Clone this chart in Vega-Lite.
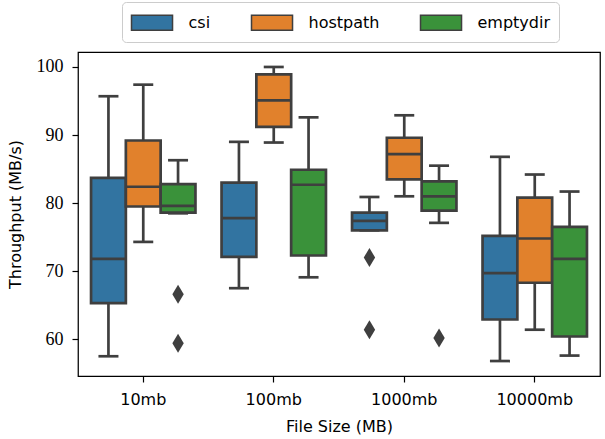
{
  "$schema": "https://vega.github.io/schema/vega-lite/v6.json",
  "width": 522,
  "height": 324,
  "autosize": {"type": "none"},
  "padding": {"left": 78, "top": 52, "right": 5, "bottom": 63},
  "background": "white",
  "config": {
    "view": {"stroke": "black", "strokeWidth": 1.25},
    "axis": {
      "domain": false,
      "grid": false,
      "tickColor": "black",
      "tickSize": 6,
      "tickWidth": 1.2,
      "labelColor": "black",
      "titleColor": "black",
      "titleFont": "DejaVu Sans",
      "titleFontSize": 16,
      "titleFontWeight": "normal"
    }
  },
  "datasets": {
    "boxes": [
      {"size": "10mb", "type": "csi", "lower": 57.5, "q1": 65.3, "median": 71.8, "q3": 83.7, "upper": 95.7},
      {"size": "10mb", "type": "hostpath", "lower": 74.3, "q1": 79.5, "median": 82.4, "q3": 89.2, "upper": 97.4},
      {"size": "10mb", "type": "emptydir", "lower": 78.5, "q1": 78.6, "median": 79.6, "q3": 82.8, "upper": 86.3},
      {"size": "100mb", "type": "csi", "lower": 67.5, "q1": 72.1, "median": 77.8, "q3": 83.0, "upper": 89.0},
      {"size": "100mb", "type": "hostpath", "lower": 88.9, "q1": 91.2, "median": 95.1, "q3": 98.9, "upper": 100.0},
      {"size": "100mb", "type": "emptydir", "lower": 69.1, "q1": 72.3, "median": 82.7, "q3": 84.9, "upper": 92.6},
      {"size": "1000mb", "type": "csi", "lower": 76.0, "q1": 76.0, "median": 77.4, "q3": 78.6, "upper": 80.9},
      {"size": "1000mb", "type": "hostpath", "lower": 81.0, "q1": 83.5, "median": 87.2, "q3": 89.6, "upper": 92.9},
      {"size": "1000mb", "type": "emptydir", "lower": 77.1, "q1": 78.9, "median": 81.0, "q3": 83.2, "upper": 85.5},
      {"size": "10000mb", "type": "csi", "lower": 56.8, "q1": 62.9, "median": 69.7, "q3": 75.2, "upper": 86.8},
      {"size": "10000mb", "type": "hostpath", "lower": 61.4, "q1": 68.3, "median": 74.8, "q3": 80.8, "upper": 84.2},
      {"size": "10000mb", "type": "emptydir", "lower": 57.6, "q1": 60.4, "median": 71.8, "q3": 76.5, "upper": 81.7}
    ],
    "outliers": [
      {"size": "10mb", "type": "emptydir", "value": 66.6},
      {"size": "10mb", "type": "emptydir", "value": 59.4},
      {"size": "1000mb", "type": "csi", "value": 72.0},
      {"size": "1000mb", "type": "csi", "value": 61.4},
      {"size": "1000mb", "type": "emptydir", "value": 60.2}
    ]
  },
  "encoding": {
    "x": {
      "field": "size",
      "type": "nominal",
      "title": "File Size (MB)",
      "scale": {"domain": ["10mb", "100mb", "1000mb", "10000mb"], "paddingInner": 0.2, "paddingOuter": 0.1},
      "axis": {"labelAngle": 0, "labelFont": "DejaVu Sans", "labelFontSize": 16, "labelPadding": 9, "titlePadding": 11, "bandPosition": 0.5}
    },
    "xOffset": {
      "field": "type",
      "type": "nominal",
      "scale": {"domain": ["csi", "hostpath", "emptydir"], "paddingInner": 0, "paddingOuter": 0}
    }
  },
  "layer": [
    {
      "data": {"name": "boxes"},
      "mark": {"type": "rule", "color": "#3f3f3f", "strokeWidth": 2.7},
      "encoding": {
        "y": {
          "field": "lower",
          "type": "quantitative",
          "title": "Throughput (MB/s)",
          "scale": {"domain": [54.6, 102.2], "nice": false, "zero": false},
          "axis": {"values": [60, 70, 80, 90, 100], "labelFont": "Liberation Serif", "labelFontSize": 18, "labelPadding": 9, "titlePadding": 13}
        },
        "y2": {"field": "upper"}
      }
    },
    {
      "data": {"name": "boxes"},
      "mark": {"type": "tick", "color": "#3f3f3f", "size": 20, "thickness": 2.7, "opacity": 1},
      "encoding": {"y": {"field": "lower", "type": "quantitative"}}
    },
    {
      "data": {"name": "boxes"},
      "mark": {"type": "tick", "color": "#3f3f3f", "size": 20, "thickness": 2.7, "opacity": 1},
      "encoding": {"y": {"field": "upper", "type": "quantitative"}}
    },
    {
      "data": {"name": "boxes"},
      "mark": {"type": "bar", "stroke": "#3f3f3f", "strokeWidth": 2.7, "opacity": 1},
      "encoding": {
        "y": {"field": "q1", "type": "quantitative"},
        "y2": {"field": "q3"},
        "color": {
          "field": "type",
          "type": "nominal",
          "scale": {"domain": ["csi", "hostpath", "emptydir"], "range": ["#3274a1", "#e1812c", "#3a923a"]},
          "legend": {
            "title": null,
            "orient": "none",
            "legendX": 44,
            "legendY": -50,
            "direction": "horizontal",
            "symbolType": "M-1,-0.68H2.73V0.68H-1Z",
            "symbolSize": 484,
            "symbolStrokeColor": "#3f3f3f",
            "symbolStrokeWidth": 1.5,
            "symbolOpacity": 1,
            "labelFont": "DejaVu Sans",
            "labelFontSize": 16,
            "labelColor": "black",
            "labelOffset": 34,
            "columnPadding": 38,
            "padding": 8.5,
            "strokeColor": "#cccccc",
            "cornerRadius": 4,
            "fillColor": "white"
          }
        }
      }
    },
    {
      "data": {"name": "boxes"},
      "mark": {"type": "tick", "color": "#3f3f3f", "size": 34, "thickness": 2.7, "opacity": 1},
      "encoding": {"y": {"field": "median", "type": "quantitative"}}
    },
    {
      "data": {"name": "outliers"},
      "mark": {"type": "point", "shape": "M0,-1L0.6,0L0,1L-0.6,0Z", "size": 361, "filled": true, "color": "#3f3f3f", "opacity": 1},
      "encoding": {"y": {"field": "value", "type": "quantitative"}}
    }
  ]
}
